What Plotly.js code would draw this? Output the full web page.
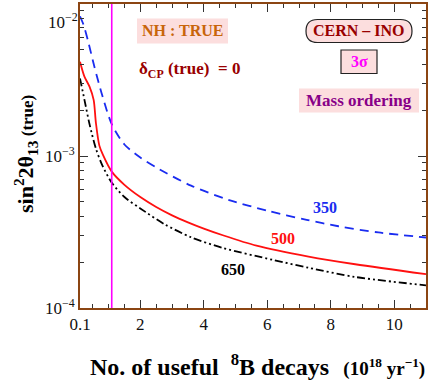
<!DOCTYPE html>
<html>
<head>
<meta charset="utf-8">
<script src="https://cdn.plot.ly/plotly-3.0.1.min.js"></script>
<style>html,body{margin:0;padding:0;background:#fff;}#plot{width:436px;height:382px;}</style>
</head>
<body>
<div id="plot"></div>
<script>
// ---- data ----
const x350 = [0.1, 0.2, 0.35, 0.55, 0.8, 1.1, 1.5, 2.0, 2.5, 3.6, 4.8, 6.0, 7.24, 8.24, 9.5, 11.0];
const y350 = [8.3e-3, 7.41e-3, 5.75e-3, 3.89e-3, 2.51e-3, 1.62e-3, 1.19e-3, 9.77e-4, 8.41e-4, 6.38e-4, 5.13e-4, 4.37e-4, 3.80e-4, 3.45e-4, 3.14e-4, 2.91e-4];
const x500 = [0.1, 0.24, 0.40, 0.53, 0.60, 0.71, 0.82, 1.10, 1.50, 2.0, 2.5, 3.0, 3.5, 4.0, 4.6, 5.66, 7.30, 8.77, 11.0];
const y500 = [4.17e-3, 3.33e-3, 2.86e-3, 2.34e-3, 1.66e-3, 1.17e-3, 1.02e-3, 7.89e-4, 6.46e-4, 5.37e-4, 4.62e-4, 4.07e-4, 3.66e-4, 3.33e-4, 3.01e-4, 2.57e-4, 2.18e-4, 1.94e-4, 1.67e-4];
const x650 = [0.1, 0.25, 0.40, 0.60, 0.80, 1.10, 1.50, 2.0, 2.77, 3.6, 4.61, 6.19, 7.30, 8.77, 11.0];
const y650 = [3.24e-3, 2.29e-3, 1.62e-3, 1.12e-3, 8.71e-4, 6.68e-4, 5.37e-4, 4.52e-4, 3.55e-4, 2.92e-4, 2.48e-4, 2.07e-4, 1.84e-4, 1.60e-4, 1.41e-4];
const magentaX = 1.1;
const xTickVals = [0.1, 2, 4, 6, 8, 10];
const xTickText = ['0.1', '2', '4', '6', '8', '10'];
const yTickVals = [1e-4, 1e-3, 1e-2];
const yTickText = ['10<sup>\u22124</sup>', '10<sup>\u22123</sup>', ''];
const yTopLabel = '10<sup>\u22122</sup>';
const yMinorVals = [2e-4,3e-4,4e-4,5e-4,6e-4,7e-4,8e-4,9e-4,2e-3,3e-3,4e-3,5e-3,6e-3,7e-3,8e-3,9e-3];

// ---- geometry helpers (pixel -> paper) ----
const L = 80, R = 426, T = 4, B = 308;
const W = R - L, H = B - T;
const px = p => (p - L) / W;
const py = p => (B - p) / H;

const SERIF = 'Liberation Serif';
const pink = '#FCDEDE';

const traces = [
  {x: x350, y: y350, mode: 'lines', line: {color: '#1a2cf0', width: 1.8, dash: '9px,6px', shape: 'spline', smoothing: 0.8}, hoverinfo: 'skip'},
  {x: x500, y: y500, mode: 'lines', line: {color: '#ff1010', width: 1.8, shape: 'spline', smoothing: 0.8}, hoverinfo: 'skip'},
  {x: x650, y: y650, mode: 'lines', line: {color: '#000000', width: 1.8, dash: '8px,3px,2px,3px,2px,3px', shape: 'spline', smoothing: 0.8}, hoverinfo: 'skip'}
];

function roundRect(x0, y0, x1, y1, r) {
  const a = px(x0), b = px(x1), c = py(y0), d = py(y1);
  const rx = r / W, ry = r / H;
  return `M ${a+rx},${c} L ${b-rx},${c} Q ${b},${c} ${b},${c-ry} L ${b},${d+ry} Q ${b},${d} ${b-rx},${d} L ${a+rx},${d} Q ${a},${d} ${a},${d+ry} L ${a},${c-ry} Q ${a},${c} ${a+rx},${c} Z`;
}
function box(x0, y0, x1, y1, border) {
  return {type: 'rect', xref: 'paper', yref: 'paper', x0: px(x0), x1: px(x1), y0: py(y1), y1: py(y0),
    fillcolor: pink, line: border ? {color: '#222', width: 1.2} : {width: 0}, layer: 'below'};
}

const shapes = [
  box(137, 18.5, 228, 43.5, false),
  box(341, 50, 377, 73.5, true),
  box(299, 88.5, 419, 112.5, false),
  {type: 'path', xref: 'paper', yref: 'paper', path: roundRect(306, 19.5, 412, 42.5, 11.5), fillcolor: pink, line: {color: '#222', width: 1.2}},
  {type: 'line', xref: 'x', yref: 'paper', x0: magentaX, x1: magentaX, y0: 0, y1: 1, line: {color: '#ff00ff', width: 1.6}, layer: 'above'}
];

function ann(text, cx, cy, size, color, extra) {
  return Object.assign({xref: 'paper', yref: 'paper', x: px(cx), y: py(cy), text: text, showarrow: false,
    xanchor: 'center', yanchor: 'middle', font: {family: SERIF, size: size, color: color}}, extra || {});
}

const annotations = [
  ann('<b>NH : TRUE</b>', 182.5, 31, 16, '#C8650A'),
  ann('<b>δ<sub>CP</sub> (true)  = 0</b>', 137, 70, 17, '#990000', {xanchor: 'left'}),
  ann('<b>CERN – INO</b>', 359, 31, 16, '#990000'),
  ann('<b>3σ</b>', 359, 62, 16, '#ff00ff'),
  ann('<b>Mass ordering</b>', 359, 100.5, 17, '#880088'),
  ann('<b>350</b>', 325, 207, 16, '#1a2cf0'),
  ann('<b>500</b>', 282.7, 238.3, 16, '#ff1010'),
  ann('<b>650</b>', 233.3, 269.3, 16, '#000000'),
  ann(yTopLabel, 63, 21, 17, '#111'),
  ann('<b>sin<sup>2</sup>2θ<sub>13</sub></b><b><span style="font-size:17px"> (true)</span></b>', 25, 154, 22, '#000', {textangle: -90}),
  ann('<b>No. of useful  <sup>8</sup>B decays</b><b><span style="font-size:19px">   (10<sup>18</sup> yr<sup>−1</sup>)</span></b>', 257, 365, 24, '#000')
];

const axisCommon = {
  showline: true, linecolor: '#8B4513', linewidth: 2, mirror: 'allticks',
  ticks: 'inside', tickcolor: '#333', tickwidth: 1, showgrid: false, zeroline: false,
  tickfont: {family: SERIF, size: 17, color: '#111'}
};

const layout = {
  width: 436, height: 382,
  margin: {l: L, r: 436 - R, t: T, b: 382 - B},
  paper_bgcolor: '#fff', plot_bgcolor: '#fff',
  font: {family: SERIF},
  showlegend: false,
  xaxis: Object.assign({}, axisCommon, {
    range: [0.1, 11], tickmode: 'array', tickvals: xTickVals, ticktext: xTickText, ticklen: 8,
    minor: {dtick: 0.5, tick0: 0, ticks: 'inside', ticklen: 4, tickcolor: '#333', showgrid: false}
  }),
  yaxis: Object.assign({}, axisCommon, {
    type: 'log', range: [-4, -2], tickmode: 'array', tickvals: yTickVals, ticktext: yTickText, ticklen: 8,
    minor: {tickmode: 'array', tickvals: yMinorVals, ticks: 'inside', ticklen: 4, tickcolor: '#333', showgrid: false}
  }),
  shapes: shapes,
  annotations: annotations
};

Plotly.newPlot('plot', traces, layout, {staticPlot: true, displayModeBar: false});
</script>
</body>
</html>
